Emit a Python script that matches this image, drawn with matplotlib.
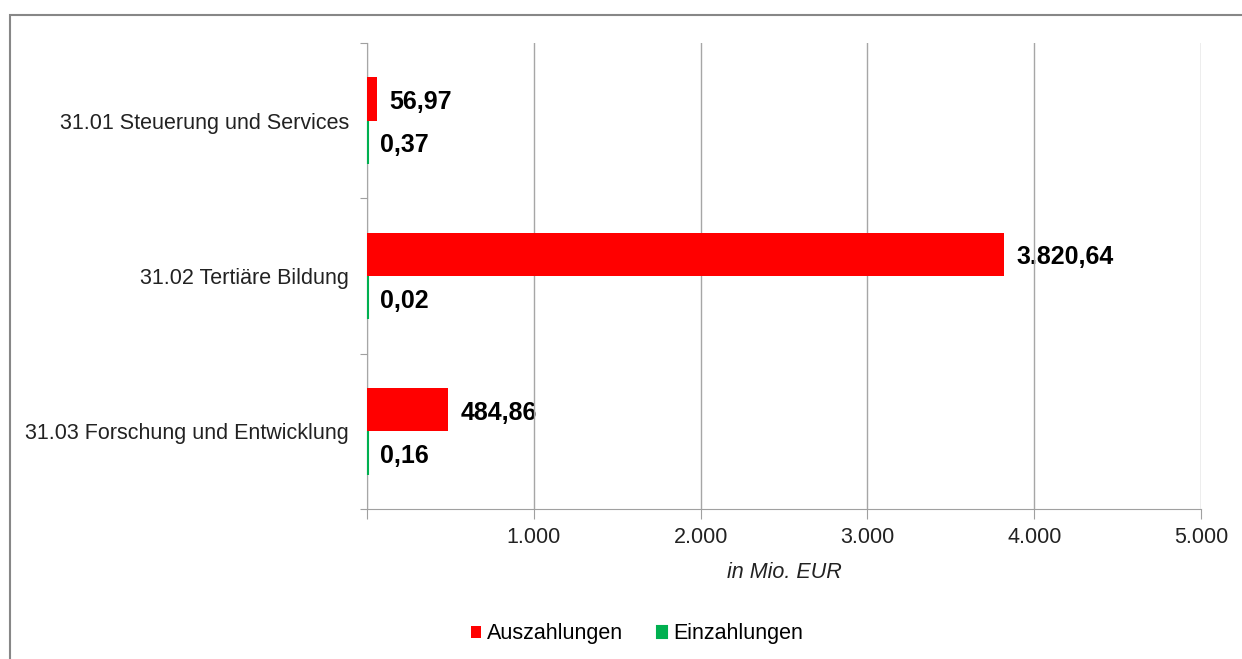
import matplotlib.pyplot as plt
import numpy as np
from matplotlib.patches import Rectangle

plt.rcParams['font.family'] = ['Liberation Sans', 'DejaVu Sans']

categories = ['31.01 Steuerung und Services', '31.02 Tertiäre Bildung',
              '31.03 Forschung und Entwicklung']
auszahlungen = [56.97, 3820.64, 484.86]
einzahlungen = [0.37, 0.02, 0.16]
xticks = [0, 1000, 2000, 3000, 4000, 5000]
xticklabels = ['', '1.000', '2.000', '3.000', '4.000', '5.000']


def de_fmt(v):
    s = f'{v:,.2f}'
    return s.replace(',', 'X').replace('.', ',').replace('X', '.')


fig = plt.figure(figsize=(12.42, 6.59), dpi=100)
ax = fig.add_axes([367 / 1242, 1 - 509 / 659, 834 / 1242, 466 / 659])

# outer frame
fig.patches.append(Rectangle((10 / 1242, -0.05), 1.1, 1 - 15 / 659 + 0.05,
                             transform=fig.transFigure, fill=False,
                             edgecolor='#878787', linewidth=1.5))

y = np.arange(len(categories))
h = 0.28
red = '#FF0000'
green = '#00B050'
b1 = ax.barh(y - 0.14, auszahlungen, height=h, color=red, label='Auszahlungen', zorder=3)
b2 = ax.barh(y + 0.14, einzahlungen, height=h, color=green, edgecolor=green,
             linewidth=1.5, label='Einzahlungen', zorder=3)
for bar in b2:
    bar.set_x(3)  # nudge so the thin bar sits just right of the axis line
    bar.set_clip_on(False)

for bars, vals in ((b1, auszahlungen), (b2, einzahlungen)):
    for bar, v in zip(bars, vals):
        ax.annotate(de_fmt(v), (bar.get_x() + bar.get_width(), bar.get_y() + bar.get_height() / 2),
                    xytext=(9, -2.2), textcoords='offset points', va='center', ha='left',
                    fontsize=18, fontweight='bold', color='black', zorder=0.5)

ax.set_xlim(0, 5000)
ax.set_ylim(2.5, -0.5)
ax.set_xticks(xticks)
ax.set_xticklabels(xticklabels, fontsize=15.5, color='#222222')
ax.tick_params(axis='x', length=7, color='#a0a0a0', pad=6)
ax.xaxis.grid(True, color='#a6a6a6', linewidth=1, zorder=1)
ax.set_axisbelow(False)

ax.set_yticks([-0.5, 0.5, 1.5, 2.5])
ax.set_yticklabels([])
ax.set_yticks(y, minor=True)
ax.set_yticklabels(categories, minor=True, fontsize=15.5, color='#222222')
ax.tick_params(axis='y', which='major', length=5, color='#a0a0a0')
ax.tick_params(axis='y', which='minor', length=0, pad=13)

for s in ('top', 'right'):
    ax.spines[s].set_visible(False)
for s in ('left', 'bottom'):
    ax.spines[s].set_color('#a0a0a0')

ax.set_xlabel('in Mio. EUR', fontsize=15.5, fontstyle='italic', labelpad=10, color='#222222')

fig.legend(handles=[b1, b2], loc='center', bbox_to_anchor=(637 / 1242, 1 - 634 / 659),
           ncol=2, frameon=False, fontsize=15.5, handlelength=0.47, handleheight=0.47,
           handletextpad=0.25, columnspacing=1.6)

fig.savefig('out.png', dpi=100)
